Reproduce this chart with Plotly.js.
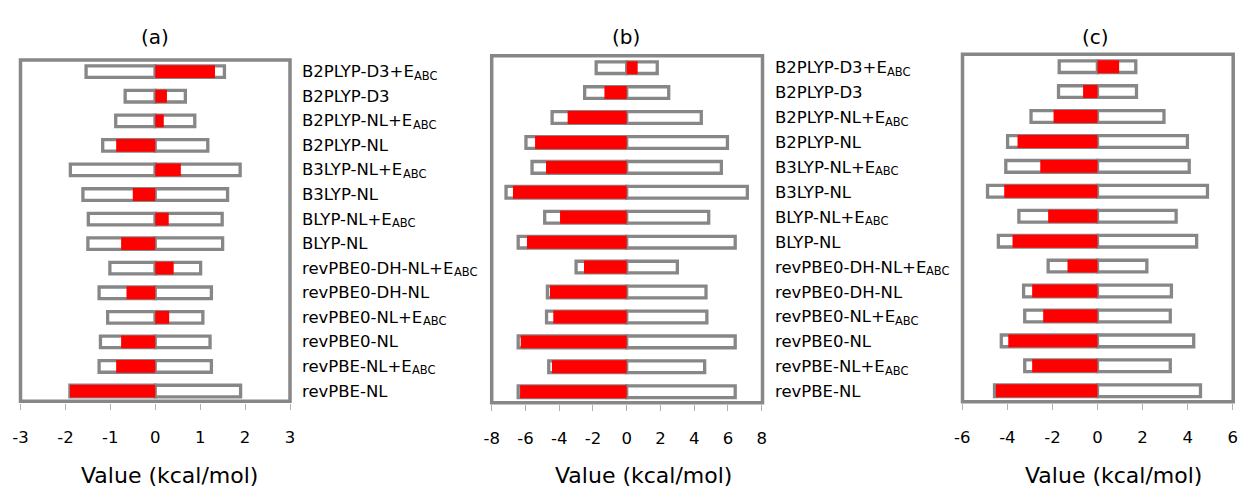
<!DOCTYPE html>
<html>
<head>
<meta charset="utf-8">
<script src="https://cdn.plot.ly/plotly-3.0.1.min.js"></script>
<style>html,body{margin:0;padding:0;background:#fff;}#chart{width:1239px;height:491px;}</style>
</head>
<body>
<div id="chart"></div>
<script>
// ---- data ----
const categories = [
  'B2PLYP-D3+E_ABC', 'B2PLYP-D3', 'B2PLYP-NL+E_ABC', 'B2PLYP-NL',
  'B3LYP-NL+E_ABC', 'B3LYP-NL', 'BLYP-NL+E_ABC', 'BLYP-NL',
  'revPBE0-DH-NL+E_ABC', 'revPBE0-DH-NL', 'revPBE0-NL+E_ABC', 'revPBE0-NL',
  'revPBE-NL+E_ABC', 'revPBE-NL'
];
// panel (a)
const madA = [1.54, 0.67, 0.88, 1.17, 1.89, 1.61, 1.49, 1.50, 1.01, 1.25, 1.06, 1.22, 1.25, 1.90];
const meA  = [1.33, 0.26, 0.19, -0.87, 0.57, -0.50, 0.30, -0.76, 0.41, -0.64, 0.31, -0.76, -0.87, -1.90];
// panel (b)
const madB = [1.81, 2.49, 4.42, 5.97, 5.61, 7.15, 4.86, 6.43, 3.00, 4.70, 4.75, 6.43, 4.62, 6.43];
const meB  = [0.65, -1.32, -3.50, -5.43, -4.78, -6.74, -3.95, -5.91, -2.53, -4.55, -4.35, -6.28, -4.43, -6.32];
// panel (c)
const madC = [1.70, 1.73, 2.95, 3.99, 4.07, 4.88, 3.49, 4.40, 2.19, 3.28, 3.23, 4.27, 3.23, 4.57];
const meC  = [0.96, -0.64, -1.95, -3.55, -2.54, -4.14, -2.19, -3.77, -1.33, -2.90, -2.41, -3.96, -2.90, -4.51];
// tick labels
const ticksA = [-3, -2, -1, 0, 1, 2, 3];
const ticksB = [-8, -6, -4, -2, 0, 2, 4, 6, 8];
const ticksC = [-6, -4, -2, 0, 2, 4, 6];
const panelTitles = ['(a)', '(b)', '(c)'];
const axisTitle = 'Value (kcal/mol)';

// ---- styling / layout ----
const W = 1239, H = 491;
const px = x => x / W;
const py = y => 1 - y / H;
const GRAY = '#878787';
const RED = '#ff0000';
const FONT = 'DejaVu Sans, Liberation Sans, sans-serif';
const LABEL_SIZE = 16.5, SUB_SIZE = 11.5;

const ctx = document.createElement('canvas').getContext('2d');
ctx.font = LABEL_SIZE + 'px "DejaVu Sans"';
const textWidth = s => ctx.measureText(s).width;

const panels = [
  {mad: madA, me: meA, ticks: ticksA, range: [-3, 3], xs: '', x: [20.5, 290], y: [59.4, 403.3],
   box: [20.5, 60, 290, 401.3], title: [155, 37], xt: [169.5, 475], labels: true},
  {mad: madB, me: meB, ticks: ticksB, range: [-8, 8], xs: '2', x: [491.7, 761.7], y: [55.2, 404.2],
   box: [491.7, 55.7, 762.5, 402.7], title: [626, 37], xt: [643, 475], labels: true},
  {mad: madC, me: meC, ticks: ticksC, range: [-6, 6], xs: '3', x: [962.3, 1232.7], y: [54.2, 403.2],
   box: [962.5, 54.3, 1233.2, 401.7], title: [1095, 37], xt: [1113, 475], labels: false}
];

const traces = [];
const layout = {
  width: W, height: H,
  margin: {l: 0, r: 0, t: 0, b: 0},
  paper_bgcolor: '#fff', plot_bgcolor: 'rgba(0,0,0,0)',
  barmode: 'overlay', showlegend: false,
  font: {family: FONT, color: '#000'},
  shapes: [], annotations: []
};

panels.forEach((p, i) => {
  const xa = 'x' + p.xs, ya = 'y' + p.xs;
  traces.push({type: 'bar', orientation: 'h', y: categories, x: p.mad.map(v => -v),
    xaxis: xa, yaxis: ya, width: 0.47,
    marker: {color: '#ffffff', line: {color: GRAY, width: 3.3}}, hoverinfo: 'skip'});
  traces.push({type: 'bar', orientation: 'h', y: categories, x: p.mad,
    xaxis: xa, yaxis: ya, width: 0.47,
    marker: {color: '#ffffff', line: {color: GRAY, width: 3.3}}, hoverinfo: 'skip'});
  traces.push({type: 'bar', orientation: 'h', y: categories, x: p.me,
    xaxis: xa, yaxis: ya, width: 0.52,
    marker: {color: RED, line: {width: 0}}, hoverinfo: 'skip'});

  layout['xaxis' + p.xs] = {
    domain: [px(p.x[0]), px(p.x[1])], range: p.range, anchor: ya,
    tickvals: p.ticks, ticktext: p.ticks.map(v => String(v)),
    ticks: 'outside', ticklen: 6, tickwidth: 1, tickcolor: '#b0b0b0',
    ticklabelstandoff: 13,
    showline: false, showgrid: false, zeroline: false,
    tickfont: {family: FONT, size: 16.5, color: '#000'}, fixedrange: true
  };
  layout['yaxis' + p.xs] = {
    domain: [py(p.y[1]), py(p.y[0])], anchor: xa, side: 'right',
    type: 'category', categoryorder: 'array', categoryarray: categories,
    range: [13.5, -0.5],
    showline: false, showgrid: false, zeroline: false, ticks: '',
    showticklabels: false, fixedrange: true
  };
  if (p.labels) {
    const x0 = p.box[2] + 11;
    categories.forEach(c => {
      const parts = c.split('_');
      layout.annotations.push({text: parts[0], xref: 'paper', yref: ya,
        x: px(x0), y: c, xanchor: 'left', yanchor: 'middle', borderpad: 0,
        showarrow: false, font: {family: FONT, size: LABEL_SIZE, color: '#000'}});
      if (parts[1]) {
        layout.annotations.push({text: parts[1], xref: 'paper', yref: ya,
          x: px(x0 + textWidth(parts[0]) + 0.5), y: c, xanchor: 'left', yanchor: 'middle',
          yshift: -4, borderpad: 0,
          showarrow: false, font: {family: FONT, size: SUB_SIZE, color: '#000'}});
      }
    });
  }
  layout.shapes.push({type: 'rect', xref: 'paper', yref: 'paper',
    x0: px(p.box[0]), x1: px(p.box[2]), y0: py(p.box[3]), y1: py(p.box[1]),
    line: {color: GRAY, width: 3.5}, fillcolor: 'rgba(0,0,0,0)', layer: 'above'});
  layout.annotations.push({text: panelTitles[i], xref: 'paper', yref: 'paper',
    x: px(p.title[0]), y: py(p.title[1]), xanchor: 'center', yanchor: 'middle',
    showarrow: false, font: {family: FONT, size: 20, color: '#000'}});
  layout.annotations.push({text: axisTitle, xref: 'paper', yref: 'paper',
    x: px(p.xt[0]), y: py(p.xt[1]), xanchor: 'center', yanchor: 'middle',
    showarrow: false, font: {family: FONT, size: 22, color: '#000'}});
});

Plotly.newPlot('chart', traces, layout, {staticPlot: true, displayModeBar: false});
</script>
</body>
</html>
